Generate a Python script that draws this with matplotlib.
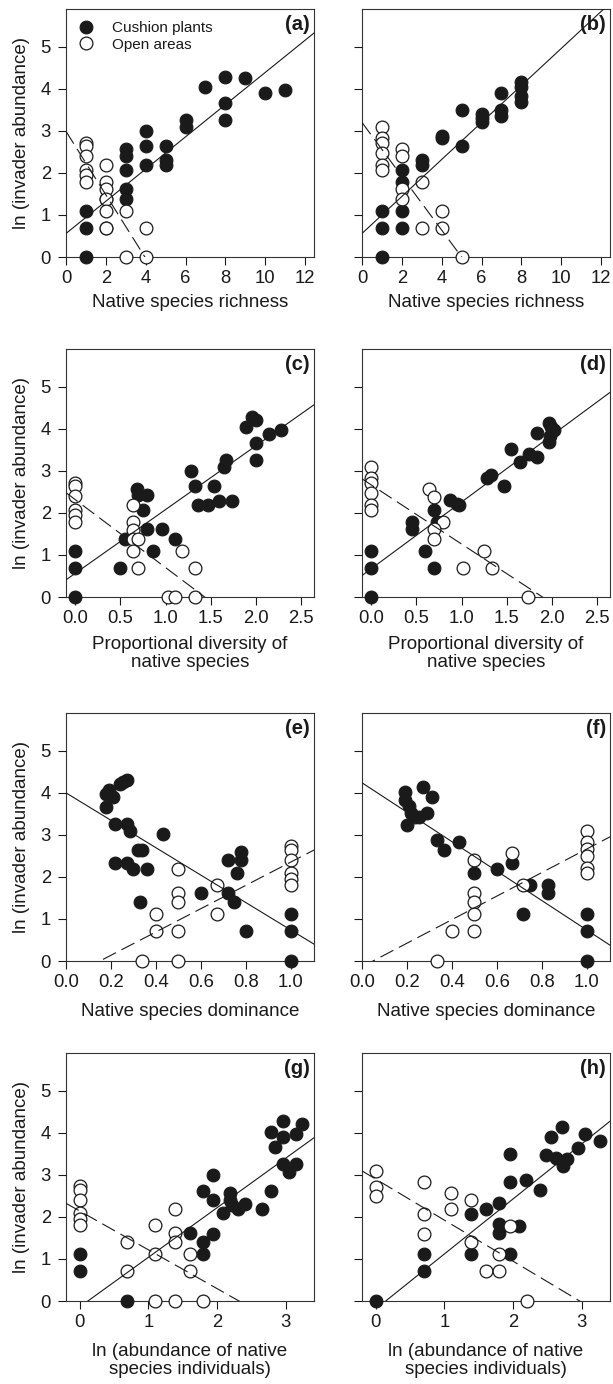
import matplotlib
matplotlib.use("Agg")
import matplotlib.pyplot as plt
import numpy as np

plt.rcParams["font.family"] = ["Liberation Sans", "DejaVu Sans"]
plt.rcParams["lines.scale_dashes"] = False

# ---- data ----
# (a) native species richness, year 1
a_cush_x = [1, 1, 1, 2, 2, 3, 3, 3, 3, 3, 4, 4, 4, 5, 5, 5, 6, 6, 7, 8, 8, 8, 9, 10, 11]
a_cush_y = [0, 0.69, 1.1, 0.69, 1.39, 1.39, 1.61, 2.08, 2.4, 2.56, 2.2, 2.64, 3.0,
            2.2, 2.3, 2.64, 3.09, 3.26, 4.04, 4.28, 3.66, 3.26, 4.25, 3.89, 3.97]
a_open_x = [1, 1, 1, 1, 1, 1, 2, 2, 2, 2, 2, 2, 3, 3, 4, 4]
a_open_y = [2.71, 2.64, 2.4, 2.08, 1.95, 1.79, 2.2, 1.79, 1.61, 1.39, 1.1, 0.69, 1.1, 0, 0.69, 0]

# (b) native species richness, year 2
b_cush_x = [1, 1, 1, 2, 2, 2, 2, 3, 3, 4, 4, 5, 5, 6, 6, 6, 7, 7, 7, 8, 8, 8, 8]
b_cush_y = [0, 0.69, 1.1, 0.69, 1.1, 1.79, 2.08, 2.2, 2.3, 2.83, 2.89, 2.64, 3.5,
            3.2, 3.3, 3.4, 3.36, 3.5, 3.89, 3.68, 3.82, 4.04, 4.16]
b_open_x = [1, 1, 1, 1, 1, 1, 2, 2, 2, 2, 3, 3, 4, 4, 5]
b_open_y = [3.09, 2.83, 2.71, 2.48, 2.2, 2.08, 2.56, 2.4, 1.61, 1.39, 1.79, 0.69, 1.1, 0.69, 0]

# (c) proportional diversity, year 1
c_cush_x = [0, 0, 0, 0.5, 0.55, 0.68, 0.7, 0.79, 0.75, 0.8, 0.86, 0.96, 1.1, 1.28, 1.32,
            1.36, 1.47, 1.54, 1.59, 1.65, 1.67, 1.73, 1.89, 1.95, 2.0, 2.0, 2.0, 2.14, 2.27]
c_cush_y = [0, 0.69, 1.1, 0.69, 1.37, 2.58, 2.42, 2.42, 2.08, 1.61, 1.1, 1.61, 1.37, 3.0,
            2.64, 2.2, 2.2, 2.64, 2.29, 3.1, 3.26, 2.29, 4.04, 4.28, 4.22, 3.66, 3.26, 3.88, 3.97]
c_open_x = [0, 0, 0, 0, 0, 0, 0.64, 0.64, 0.64, 0.64, 0.7, 0.64, 0.7, 1.18, 1.32, 1.03, 1.1, 1.32]
c_open_y = [2.71, 2.64, 2.4, 2.08, 1.95, 1.79, 2.2, 1.79, 1.6, 1.37, 1.37, 1.1, 0.69, 1.1,
            0.69, 0, 0, 0]

# (d) proportional diversity, year 2
d_cush_x = [0, 0, 0, 0.45, 0.45, 0.6, 0.7, 0.7, 0.73, 0.87, 0.95, 0.97, 1.28, 1.33, 1.47,
            1.55, 1.65, 1.75, 1.83, 1.83, 1.97, 1.99, 2.02, 1.98, 1.97]
d_cush_y = [0, 0.69, 1.1, 1.79, 1.61, 1.1, 0.69, 2.08, 1.79, 2.31, 2.21, 2.2, 2.83, 2.91,
            2.64, 3.52, 3.22, 3.41, 3.34, 3.89, 4.14, 4.04, 3.98, 3.82, 3.68]
d_open_x = [0, 0, 0, 0, 0, 0, 0.64, 0.7, 0.8, 0.7, 0.7, 1.02, 1.25, 1.34, 1.73]
d_open_y = [3.09, 2.83, 2.71, 2.48, 2.2, 2.08, 2.58, 2.39, 1.79, 1.61, 1.39, 0.69, 1.1, 0.69, 0]

# (e) native species dominance, year 1
e_cush_x = [0.177, 0.177, 0.19, 0.21, 0.24, 0.255, 0.27, 0.22, 0.27, 0.285, 0.32, 0.34,
            0.22, 0.27, 0.3, 0.36, 0.43, 0.33, 0.6, 0.72, 0.72, 0.76, 0.75, 0.78, 0.78,
            0.8, 1.0, 1.0, 1.0]
e_cush_y = [3.67, 3.97, 4.06, 3.89, 4.22, 4.25, 4.3, 3.27, 3.27, 3.1, 2.65, 2.65, 2.32,
            2.32, 2.19, 2.19, 3.02, 1.4, 1.62, 2.41, 1.62, 2.1, 1.4, 2.6, 2.4, 0.71, 1.11,
            0.71, 0]
e_open_x = [1.0, 1.0, 1.0, 1.0, 1.0, 1.0, 0.5, 0.5, 0.5, 0.5, 0.5, 0.4, 0.4, 0.337, 0.67, 0.67]
e_open_y = [2.74, 2.65, 2.41, 2.1, 1.96, 1.81, 2.2, 1.62, 1.4, 0.71, 0, 1.11, 0.71, 0, 1.81, 1.11]

# (f) native species dominance, year 2
f_cush_x = [0.19, 0.19, 0.21, 0.2, 0.22, 0.235, 0.254, 0.27, 0.29, 0.31, 0.334, 0.367,
            0.43, 0.5, 0.6, 0.667, 0.75, 0.83, 0.83, 0.715, 1.0, 1.0, 1.0]
f_cush_y = [4.02, 3.83, 3.69, 3.23, 3.51, 3.43, 3.43, 4.13, 3.51, 3.9, 2.89, 2.65, 2.83,
            2.1, 2.2, 2.32, 1.81, 1.81, 1.62, 1.11, 1.11, 0.71, 0]
f_open_x = [1.0, 1.0, 1.0, 1.0, 1.0, 1.0, 0.5, 0.5, 0.5, 0.5, 0.5, 0.4, 0.334, 0.667, 0.715]
f_open_y = [3.1, 2.83, 2.67, 2.5, 2.22, 2.1, 2.4, 1.62, 1.4, 1.11, 0.71, 0.71, 0, 2.58, 1.81]

# (g) ln abundance of native individuals, year 1
g_cush_x = [0, 0, 0.69, 1.61, 1.79, 1.79, 1.8, 1.94, 1.94, 1.94, 2.08, 2.19, 2.18, 2.22,
            2.31, 2.4, 2.65, 2.78, 2.78, 2.84, 2.96, 2.96, 2.96, 3.15, 3.23, 3.05, 3.15]
g_cush_y = [1.11, 0.71, 0, 1.62, 1.4, 1.11, 2.62, 1.6, 2.99, 2.4, 2.1, 2.56, 2.4, 2.28,
            2.2, 2.3, 2.2, 2.62, 4.02, 3.67, 4.29, 3.89, 3.27, 3.97, 4.21, 3.07, 3.25]
g_open_x = [0, 0, 0, 0, 0, 0, 0.69, 0.69, 1.1, 1.1, 1.1, 1.38, 1.38, 1.38, 1.38, 1.61, 1.61, 1.79]
g_open_y = [2.74, 2.63, 2.4, 2.1, 1.96, 1.81, 1.4, 0.71, 1.81, 1.11, 0, 2.2, 1.62, 1.4, 0,
            1.11, 0.71, 0]

# (h) ln abundance of native individuals, year 2
h_cush_x = [0, 0.7, 0.7, 1.39, 1.39, 1.61, 1.79, 1.79, 1.79, 1.95, 1.95, 1.95, 2.08, 2.19,
            2.39, 2.48, 2.55, 2.63, 2.71, 2.72, 2.78, 2.94, 3.04, 3.26]
h_cush_y = [0, 0.71, 1.11, 1.11, 2.08, 2.2, 2.32, 1.83, 1.62, 1.11, 2.82, 3.49, 1.79, 2.87,
            2.63, 3.48, 3.9, 3.41, 4.13, 3.21, 3.37, 3.65, 3.98, 3.81]
h_open_x = [0, 0, 0, 0.7, 0.7, 0.7, 1.1, 1.1, 1.39, 1.39, 1.61, 1.79, 1.79, 1.95, 2.2]
h_open_y = [3.1, 2.71, 2.49, 2.83, 2.08, 1.6, 2.56, 2.2, 2.4, 1.4, 0.71, 0.71, 1.11, 1.79, 0]

# fitted lines (intercept, slope)
cush_fit = [(0.56, 0.383), (0.56, 0.44), (0.56, 1.52), (0.67, 1.59),
            (4.0, -3.26), (4.24, -3.5), (-0.14, 1.18), (-0.19, 1.31)]
open_fit = [(2.99, -0.755), (3.2, -0.64), (2.32, -1.62), (2.67, -1.41),
            (-0.418, 2.77), (-0.137, 2.8), (2.14, -0.923), (2.90, -0.977)]

panel_tags = ["(a)", "(b)", "(c)", "(d)", "(e)", "(f)", "(g)", "(h)"]
xlabels = ["Native species richness",
           "Proportional diversity of\nnative species",
           "Native species dominance",
           "ln (abundance of native\nspecies individuals)"]
xlims = [(0, 12.45), (-0.1, 2.64), (0, 1.104), (-0.2, 3.41)]
xticks = [np.arange(0, 13, 2), np.arange(0, 2.6, 0.5), np.arange(0, 1.01, 0.2), np.arange(0, 4, 1)]
xfmt = ["{:.0f}", "{:.1f}", "{:.1f}", "{:.0f}"]

cush = [(a_cush_x, a_cush_y), (b_cush_x, b_cush_y), (c_cush_x, c_cush_y), (d_cush_x, d_cush_y),
        (e_cush_x, e_cush_y), (f_cush_x, f_cush_y), (g_cush_x, g_cush_y), (h_cush_x, h_cush_y)]
opn = [(a_open_x, a_open_y), (b_open_x, b_open_y), (c_open_x, c_open_y), (d_open_x, d_open_y),
       (e_open_x, e_open_y), (f_open_x, f_open_y), (g_open_x, g_open_y), (h_open_x, h_open_y)]

# ---- layout (pixels) ----
W, H = 613, 1384
fig = plt.figure(figsize=(W / 100, H / 100), dpi=100)
col_left = [66, 362]
row_top = [9, 349, 713, 1053]
size = 248
label_gap = [37, 39, 42, 42]

ink = "#1a1a1a"
ms = 9.2

for i in range(8):
    r, c = divmod(i, 2)
    ax = fig.add_axes([col_left[c] / W, 1 - (row_top[r] + size) / H, size / W, size / H])
    ax.set_xlim(*xlims[r])
    ax.set_ylim(0, 5.9)

    cx, cy = cush[i]
    ox, oy = opn[i]
    ax.plot(cx, cy, "o", ms=ms, mfc=ink, mec=ink, mew=0.8, clip_on=False, zorder=3,
            label="Cushion plants")
    ax.plot(ox, oy, "o", ms=ms, mfc="white", mec=ink, mew=0.9, clip_on=False, zorder=4,
            label="Open areas")

    xx = np.array(xlims[r])
    b0, b1 = cush_fit[i]
    ax.plot(xx, b0 + b1 * xx, "-", color=ink, lw=0.8, zorder=5)
    b0, b1 = open_fit[i]
    ax.plot(xx, b0 + b1 * xx, color=ink, lw=0.8, ls=(0, (10.5, 4.5)), zorder=5)

    ax.set_xticks(xticks[r])
    ax.set_xticklabels([xfmt[r].format(t) for t in xticks[r]])
    ax.set_yticks(range(6))
    ax.tick_params(direction="out", length=5.8, width=0.8, labelsize=13.3, colors=ink)
    ax.tick_params(axis="x", pad=3.5)
    ax.tick_params(axis="y", pad=5)
    if c == 1:
        ax.tick_params(axis="y", labelleft=False)
    for s in ax.spines.values():
        s.set_linewidth(0.8)
        s.set_color("#333333")

    ax.text(1 - 4 / size, 1 - 6 / size, panel_tags[i], transform=ax.transAxes,
            ha="right", va="top", fontsize=14.5, fontweight="bold", color=ink)
    ax.text(0.5, -label_gap[r] / size, xlabels[r], transform=ax.transAxes,
            ha="center", va="top", fontsize=13.5, color=ink, linespacing=1.1)

    if c == 0:
        fig.text(22 / W, 1 - (row_top[r] + size / 2) / H, "ln (invader abundance)",
                 rotation=90, ha="center", va="center", fontsize=13.5, color=ink)

    if i == 0:
        ax.legend(loc="upper left", bbox_to_anchor=(0, 1), borderaxespad=0,
                  borderpad=0.8, handlelength=1.0, handletextpad=1.2,
                  labelspacing=0.15, frameon=False, fontsize=11, numpoints=1,
                  labelcolor=ink)

fig.savefig("out.png", dpi=100)
